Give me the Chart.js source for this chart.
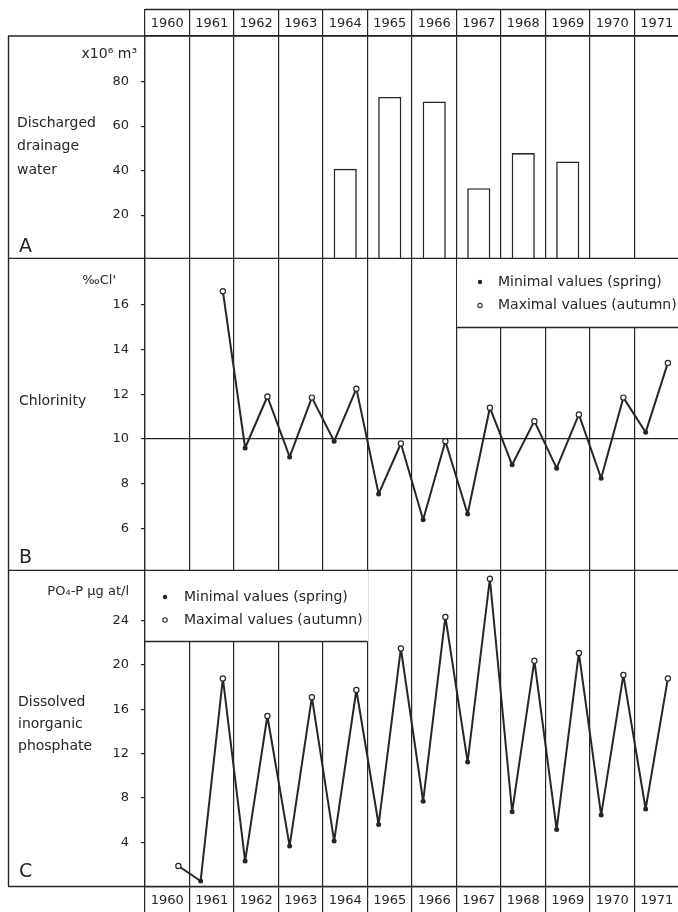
<!DOCTYPE html>
<html>
<head>
<meta charset="utf-8">
<script src="https://cdn.jsdelivr.net/npm/chart.js@4.4.1/dist/chart.umd.min.js"></script>
<style>
  html, body { margin: 0; padding: 0; background: #fff; }
  #sheet { position: relative; width: 678px; height: 912px; overflow: hidden; background: #fff; }
  #sheet canvas { position: absolute; left: 0; }
</style>
</head>
<body>
<div id="sheet">
  <canvas id="drainage" width="680" height="259" style="top:0"></canvas>
  <canvas id="chlorinity" width="680" height="312" style="top:259px"></canvas>
  <canvas id="phosphate" width="680" height="341" style="top:571px"></canvas>
</div>
<script>
// years along the top and bottom
const years = ['1960', '1961', '1962', '1963', '1964', '1965', '1966', '1967', '1968', '1969', '1970', '1971'];

// A: discharged drainage water, x10^6 m3
const drainage = [null, null, null, null, 40.8, 73.1, 71.1, 32.1, 47.9, 44.1, null, null];
const drainTicks = [20, 40, 60, 80];

// B: chlorinity, per mille Cl'
const chlSpring = [null, null, 9.6, 9.2, 9.9, 7.55, 6.4, 6.65, 8.85, 8.7, 8.25, 10.3];
const chlAutumn = [null, 16.6, 11.9, 11.85, 12.25, 9.8, 9.9, 11.4, 10.8, 11.1, 11.85, 13.4];
const chlTicks = [6, 8, 10, 12, 14, 16];

// C: dissolved inorganic phosphate, PO4-P ug at/l
const po4Spring = [null, 0.5, 2.3, 3.65, 4.1, 5.6, 7.7, 11.25, 6.75, 5.15, 6.45, 7.0];
const po4Autumn = [1.85, 18.8, 15.4, 17.1, 17.75, 21.5, 24.35, 27.8, 20.4, 21.1, 19.1, 18.8];
const po4Ticks = [4, 8, 12, 16, 20, 24];

const legendLabels = ['Minimal values (spring)', 'Maximal values (autumn)'];

const ink = '#262626';
const family = "'DejaVu Sans', sans-serif";
Chart.defaults.font.family = family;
Chart.defaults.color = ink;

// spring sample sits in the first quarter of a year, autumn in the last
function points(vals, shift) {
  const out = [];
  years.forEach((y, i) => { if (vals[i] != null) out.push({ x: +y + shift, y: vals[i] }); });
  return out;
}
function seasonal(spring, autumn) {
  return points(spring, 0.25).concat(points(autumn, 0.75)).sort((a, b) => a.x - b.x);
}

const panelDecor = {
  id: 'panelDecor',
  beforeDatasetsDraw(chart, args, o) {
    if (!o.legend) return;
    const { ctx, chartArea: a, scales } = chart;
    const lg = o.legend;
    const x1 = scales.xt.getPixelForValue(lg.from);
    const x2 = scales.xt.getPixelForValue(lg.to);
    const yb = Math.round(scales.y.getPixelForValue(lg.down)) + 0.5;
    ctx.save();
    ctx.fillStyle = '#fff';
    ctx.fillRect(x1 + 0.8, a.top, x2 - x1, yb - a.top);
    ctx.strokeStyle = ink;
    ctx.lineWidth = 1.3;
    ctx.beginPath();
    ctx.moveTo(x1, yb); ctx.lineTo(x2, yb);
    ctx.stroke();
    ctx.font = '14px ' + family;
    ctx.textBaseline = 'middle';
    ctx.textAlign = 'left';
    legendLabels.forEach((txt, i) => {
      const y = a.top + lg.rows[i];
      ctx.beginPath();
      ctx.arc(x1 + lg.mark, y, 2.2, 0, Math.PI * 2);
      if (i === 0) { ctx.fillStyle = ink; ctx.fill(); }
      else { ctx.lineWidth = 1.1; ctx.stroke(); }
      ctx.fillStyle = ink;
      ctx.fillText(txt, x1 + lg.text, y);
    });
    ctx.restore();
  },
  afterDraw(chart, args, o) {
    const { ctx, chartArea: a } = chart;
    ctx.save();
    ctx.strokeStyle = ink;
    ctx.lineWidth = 1.4;
    ctx.beginPath();
    ctx.moveTo(8.5, o.top ? a.top : 0); ctx.lineTo(8.5, a.bottom);
    ctx.moveTo(8, a.bottom); ctx.lineTo(chart.width, a.bottom);
    if (o.top) {
      ctx.moveTo(8, a.top); ctx.lineTo(chart.width, a.top);
      ctx.moveTo(a.left, o.header); ctx.lineTo(chart.width, o.header);
    }
    ctx.stroke();
    ctx.fillStyle = ink;
    ctx.textBaseline = 'alphabetic';
    (o.texts || []).forEach(t => {
      ctx.font = t.size + 'px ' + family;
      ctx.textAlign = t.align || 'left';
      ctx.fillText(t.text, t.x, t.y);
    });
    ctx.restore();
  }
};

function yAxis(min, max, ticks, extra) {
  return Object.assign({
    position: 'left', min: min, max: max,
    afterBuildTicks: s => { s.ticks = ticks.map(v => ({ value: v })); },
    afterFit: s => { s.width = 137; s.paddingTop = 0; s.paddingBottom = 0; },
    grid: { drawOnChartArea: false, tickLength: 4, color: ink, tickColor: ink, lineWidth: 1.2 },
    border: { color: ink, width: 1.3 },
    ticks: { padding: 12, font: { size: 13 }, color: ink }
  }, extra || {});
}

function yearAxis(position, height, padding, showLabels) {
  return {
    type: 'category', position: position, offset: true,
    afterFit: s => { s.height = height; s.paddingLeft = 0; s.paddingRight = 0; },
    grid: { offset: true, color: ink, lineWidth: 1.2, drawTicks: showLabels, tickLength: height },
    border: { color: ink, width: 1.3 },
    ticks: { display: showLabels, padding: padding, autoSkip: false, maxRotation: 0, font: { size: 13 }, color: ink }
  };
}

const timeAxis = { type: 'linear', min: 1960, max: 1972, display: false };

function seriesSets(spring, autumn) {
  return [
    { type: 'scatter', data: points(spring, 0.25), xAxisID: 'xt', order: 1,
      pointRadius: 2.5, backgroundColor: ink, borderWidth: 0 },
    { type: 'scatter', data: points(autumn, 0.75), xAxisID: 'xt', order: 1,
      pointRadius: 2.6, backgroundColor: '#fff', borderColor: ink, borderWidth: 1.2 },
    { type: 'line', data: seasonal(spring, autumn), xAxisID: 'xt', order: 3,
      borderColor: ink, borderWidth: 2, borderJoinStyle: 'round', pointRadius: 0, tension: 0, fill: false }
  ];
}

const common = {
  responsive: false,
  animation: false,
  events: []
};

new Chart(document.getElementById('drainage'), {
  type: 'bar',
  data: {
    labels: years,
    datasets: [{
      data: drainage, backgroundColor: '#fff', borderColor: ink, borderWidth: 1.6,
      barPercentage: 0.52, categoryPercentage: 1
    }]
  },
  options: Object.assign({}, common, {
    layout: { autoPadding: false, padding: { left: 8, top: 9, right: 1, bottom: 0.5 } },
    plugins: {
      legend: { display: false }, tooltip: { enabled: false },
      panelDecor: {
        top: true, header: 9.5,
        texts: [
          { text: 'x10⁶ m³', x: 137, y: 58, size: 14, align: 'right' },
          { text: 'Discharged', x: 17, y: 127, size: 14 },
          { text: 'drainage', x: 17, y: 150, size: 14 },
          { text: 'water', x: 17, y: 174, size: 14 },
          { text: 'A', x: 19, y: 252, size: 19 }
        ]
      }
    },
    scales: {
      x: yearAxis('top', 27, -22.3, true),
      y: yAxis(0.5, 100.5, drainTicks)
    }
  }),
  plugins: [panelDecor]
});

new Chart(document.getElementById('chlorinity'), {
  type: 'line',
  data: { labels: years, datasets: seriesSets(chlSpring, chlAutumn) },
  options: Object.assign({}, common, {
    layout: { autoPadding: false, padding: { left: 8, top: 0, right: 1, bottom: 0.5 } },
    plugins: {
      legend: { display: false }, tooltip: { enabled: false },
      panelDecor: {
        legend: { from: 1967, to: 1972, down: 15.0, rows: [23, 46.5], mark: 23.5, text: 41.5 },
        texts: [
          { text: "‰Cl'", x: 116, y: 25, size: 13, align: 'right' },
          { text: 'Chlorinity', x: 19, y: 146, size: 14 },
          { text: 'B', x: 19, y: 304, size: 19 }
        ]
      }
    },
    scales: {
      x: yearAxis('bottom', 0, 0, false),
      xt: timeAxis,
      y: yAxis(4.13, 18.04, chlTicks, {
        grid: {
          drawOnChartArea: true, tickLength: 4, tickColor: ink, lineWidth: 1.2,
          color: c => (c.tick && c.tick.value === 10 ? ink : 'rgba(0,0,0,0)')
        }
      })
    }
  }),
  plugins: [panelDecor]
});

new Chart(document.getElementById('phosphate'), {
  type: 'line',
  data: { labels: years, datasets: seriesSets(po4Spring, po4Autumn) },
  options: Object.assign({}, common, {
    layout: { autoPadding: false, padding: { left: 8, top: 0, right: 1, bottom: 0 } },
    plugins: {
      legend: { display: false }, tooltip: { enabled: false },
      panelDecor: {
        legend: { from: 1960, to: 1965, down: 22.18, rows: [26, 49], mark: 20, text: 39 },
        texts: [
          { text: 'PO₄-P µg at/l', x: 129, y: 24, size: 13, align: 'right' },
          { text: 'Dissolved', x: 18, y: 135, size: 14 },
          { text: 'inorganic', x: 18, y: 157, size: 14 },
          { text: 'phosphate', x: 18, y: 179, size: 14 },
          { text: 'C', x: 19, y: 306, size: 19 }
        ]
      }
    },
    scales: {
      x: yearAxis('bottom', 25.5, -18.8, true),
      xt: timeAxis,
      y: yAxis(0, 28.5, po4Ticks)
    }
  }),
  plugins: [panelDecor]
});
</script>
</body>
</html>
